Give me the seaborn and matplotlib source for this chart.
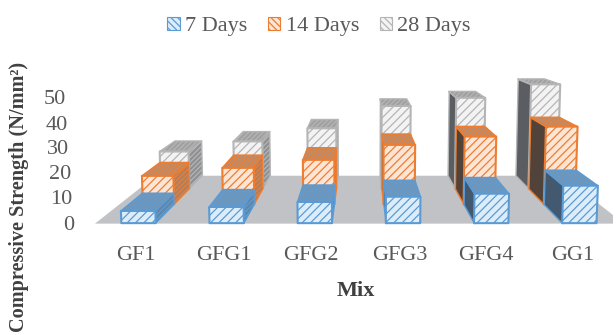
import matplotlib
matplotlib.use("Agg")
import matplotlib as mpl
import matplotlib.pyplot as plt
from matplotlib.patches import Patch
from mpl_toolkits.mplot3d.art3d import Poly3DCollection
import seaborn as sns

mixes = ["GF1", "GFG1", "GFG2", "GFG3", "GFG4", "GG1"]
days_7 = [4.9, 6.5, 8.5, 10.6, 11.8, 15.0]
days_14 = [12.5, 16.0, 19.5, 26.0, 29.6, 33.9]
days_28 = [17.7, 22.5, 28.7, 39.2, 43.0, 49.3]
series_names = ["7 Days", "14 Days", "28 Days"]
y_ticks = [0, 10, 20, 30, 40, 50]

sns.set_theme(style="white")
plt.rcParams["font.family"] = ["Liberation Serif", "DejaVu Serif"]
plt.rcParams["hatch.linewidth"] = 0.9

edge_colors = sns.color_palette(["#5b9bd5", "#ed7d31", "#b5b5b5"])
front_fill = ["#dcedf9", "#fde5d6", "#f3f3f3"]
top_fill = ["#7496b5", "#b98d70", "#a0a0a2"]
top_hatch = ["#5f86a8", "#a87a5b", "#8f8f91"]
right_fill = ["#5f86a8", "#ae7f60", "#8e8f92"]
right_hatch = ["#7ba0bf", "#c29676", "#a3a4a6"]
left_fill = ["#43596f", "#52433a", "#5a5d61"]
floor_color = "#c1c2c5"
text_color = "#595959"
title_color = "#404040"

# depth extent of each series row along the floor
rows = [(0.0, 1.0), (1.0, 2.0), (2.0, 3.0)]
bar_width = 0.39
floor_depth = 3.0
z_per_x = 0.0288

W, H = 616, 335
fig = plt.figure(figsize=(W / 100, H / 100), dpi=100)
side_px = 521
ax = fig.add_axes([91.4 / W, -62.9 / H, side_px / W, side_px / H], projection="3d")
ax.set_proj_type("persp", focal_length=0.312)
ax.view_init(elev=7.5, azim=-90)
ax.set_xlim(0, 6)
ax.set_ylim(0, floor_depth)
ax.set_zlim(0, 60)
ax.set_box_aspect((6, floor_depth, 60 * z_per_x))
ax.set_axis_off()
ax.computed_zorder = False
ax.patch.set_alpha(0)

order = [0]


def add_face(verts, fill, hatch, hatch_color, edge, lw):
    with mpl.rc_context({"hatch.color": hatch_color}):
        poly = Poly3DCollection([verts], facecolors=fill, edgecolors=edge,
                                linewidths=lw, hatch=hatch)
    order[0] += 1
    poly.set_zorder(order[0])
    ax.add_collection3d(poly)


def label(x_px, y_px, text, **kwargs):
    # placed in pixel positions measured from the top-left corner
    fig.text(x_px / W, 1 - y_px / H, text, **kwargs)


add_face([(0, 0, 0), (6, 0, 0), (6, floor_depth, 0), (0, floor_depth, 0)],
         floor_color, None, floor_color, floor_color, 0)

all_series = [days_7, days_14, days_28]
for s in (2, 1, 0):
    y0, y1 = rows[s]
    edge = edge_colors[s]
    for i, value in enumerate(all_series[s]):
        x0 = i + 0.5 - bar_width / 2
        x1 = i + 0.5 + bar_width / 2
        if i + 0.5 < 3:
            side = [(x1, y0, 0), (x1, y1, 0), (x1, y1, value), (x1, y0, value)]
            add_face(side, right_fill[s], "///////", right_hatch[s], edge, 1.0)
        else:
            side = [(x0, y0, 0), (x0, y1, 0), (x0, y1, value), (x0, y0, value)]
            add_face(side, left_fill[s], None, left_fill[s], edge, 1.0)
        top = [(x0, y0, value), (x1, y0, value), (x1, y1, value), (x0, y1, value)]
        add_face(top, top_fill[s], "///////", top_hatch[s], edge, 1.0)
        front = [(x0, y0, 0), (x1, y0, 0), (x1, y0, value), (x0, y0, value)]
        add_face(front, front_fill[s], "////", edge, edge, 1.5)

category_px = [136, 224, 311, 400, 486, 572.5]
for x_px, name in zip(category_px, mixes):
    label(x_px, 255, name, ha="center", va="center", fontsize=16, color=text_color)

for tick in y_ticks:
    label(74 - 0.16 * tick, 225 - 2.5 * tick, str(tick), ha="right", va="center",
          fontsize=16, color=text_color)

label(356, 291, "Mix", ha="center", va="center", fontsize=16, fontweight="bold",
      color=title_color)
label(19, 197, "Compressive Strength (N/mm²)", rotation=90, ha="center", va="center",
      fontsize=14.6, fontweight="bold", color=title_color)

handles = [Patch(facecolor=front_fill[k], edgecolor=edge_colors[k],
                 hatch="\\\\\\\\\\", label=series_names[k], linewidth=0.8)
           for k in range(3)]
fig.legend(handles=handles, loc="upper center", bbox_to_anchor=(0.518, 1.0), ncol=3,
           frameon=False, fontsize=16, handlelength=0.55, handleheight=0.55,
           handletextpad=0.23, columnspacing=0.95, labelcolor=text_color,
           borderpad=0.25)

fig.savefig("out.png", dpi=100)
